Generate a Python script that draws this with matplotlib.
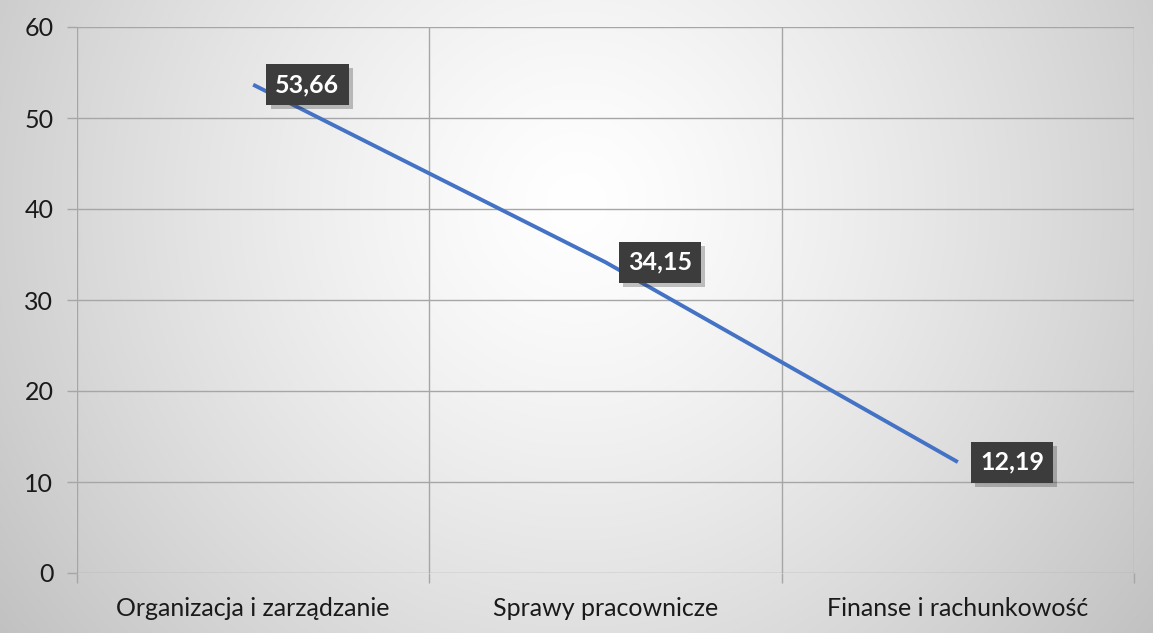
import numpy as np
import matplotlib
matplotlib.use("Agg")
import matplotlib.pyplot as plt
import matplotlib.patheffects as pe

categories = ["Organizacja i zarządzanie", "Sprawy pracownicze", "Finanse i rachunkowość"]
values = [53.66, 34.15, 12.19]
labels = ["53,66", "34,15", "12,19"]
yticks = [0, 10, 20, 30, 40, 50, 60]

W, H = 1153, 633
fig = plt.figure(figsize=(W / 100, H / 100), dpi=100)

# radial gradient background
yy, xx = np.mgrid[0:H, 0:W]
cx, cy = 0.50 * W, 0.32 * H
r = np.sqrt(((xx - cx) / (0.62 * W)) ** 2 + ((yy - cy) / (0.62 * W)) ** 2)
r = np.clip(r, 0, 1)
val = 1.0 - 0.24 * r ** 1.3
img = np.dstack([val, val, val])
bg = fig.add_axes([0, 0, 1, 1], zorder=-10)
bg.imshow(img, aspect="auto", extent=[0, 1, 0, 1], origin="upper")
bg.axis("off")

ax = fig.add_axes([77 / W, 1 - 573 / H, (1134 - 77) / W, (573 - 27) / H])
ax.patch.set_alpha(0)
x = np.arange(len(categories))
ax.plot(x, values, color="#4472C4", lw=2.8, solid_capstyle="butt",
        solid_joinstyle="miter", zorder=3)

ax.set_xlim(-0.5, len(categories) - 0.5)
ax.set_ylim(0, 60)
ax.set_yticks(yticks)
ax.set_xticks(x)
ax.set_xticklabels(categories)
ax.set_xticks(np.arange(-0.5, len(categories), 1.0), minor=True)

gc = "#a6a6a6"
for yv in yticks:
    ax.axhline(yv, color=gc, lw=1.0, zorder=1)
for xv in np.arange(-0.5, len(categories), 1.0):
    ax.axvline(xv, color=gc, lw=1.0, zorder=1)

for s in ax.spines.values():
    s.set_visible(False)

font = "Lato"
ax.tick_params(axis="y", length=7, width=1, color=gc, labelsize=18, pad=10,
               labelcolor="#1a1a1a")
ax.tick_params(axis="x", which="major", length=0, labelsize=18, pad=17,
               labelcolor="#1a1a1a")
ax.tick_params(axis="x", which="minor", length=7, width=1, color=gc)
for t in ax.get_xticklabels() + ax.get_yticklabels():
    t.set_fontfamily(font)

for xi, v, lab in zip(x, values, labels):
    ax.annotate(lab, (xi, v), xytext=(16, 0), textcoords="offset points",
                ha="left", va="center", color="white", fontsize=18,
                fontweight="bold", fontfamily=font, zorder=5,
                bbox=dict(boxstyle="square,pad=0.36", fc="#3c3c3c", ec="none",
                          path_effects=[pe.SimplePatchShadow(offset=(3, -3), alpha=0.25),
                                        pe.Normal()]))

fig.savefig("out.png", dpi=100)
